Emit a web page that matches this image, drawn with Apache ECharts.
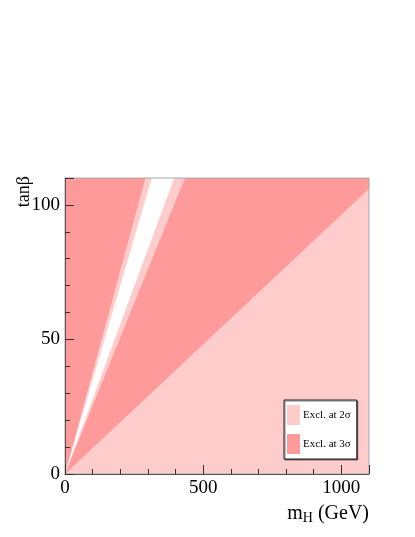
<!DOCTYPE html>
<html>
<head>
<meta charset="utf-8">
<script src="https://cdn.jsdelivr.net/npm/echarts@6/dist/echarts.min.js"></script>
<style>
html, body { margin: 0; padding: 0; background: #fff; }
#chart { width: 415px; height: 537px; }
</style>
</head>
<body>
<div id="chart"></div>
<script>
// axis ranges (mH in GeV, tanBeta)
const xTicks = [0, 500, 1000];
const yTicks = [0, 50, 100];
const mhMax = 1100;
const tbMax = 110;

// lower boundary of 3 sigma region: straight edge from origin
const diagMh = [0, 1100];
const diagTb = [0, 106];

// narrow wedge: outer edge (2 sigma) and inner allowed region, points along tanBeta
const wedgeTb = [0, 110];
const wedge2Left = [0, 291];
const wedge2Right = [0, 434];
const allowedLeft = [0, 314];
const allowedRight = [0, 395];

const col3 = '#ff9a9a';
const col2 = '#ffcccc';
const serif = 'Liberation Serif, Times New Roman, serif';

function polygon(leftMh, rightMh, tb) {
    let pts = [];
    for (let i = 0; i < tb.length; i++) pts.push([leftMh[i], tb[i]]);
    for (let i = tb.length - 1; i >= 0; i--) pts.push([rightMh[i], tb[i]]);
    return pts;
}

function wedgeSeries(name, pts, color) {
    return {
        name: name,
        type: 'custom',
        silent: true,
        data: [0],
        renderItem: function (params, api) {
            return {
                type: 'polygon',
                shape: { points: pts.map(p => api.coord(p)) },
                style: { fill: color, stroke: null }
            };
        },
        z: 3
    };
}

const chart = echarts.init(document.getElementById('chart'));
const option = {
    animation: false,
    backgroundColor: '#fff',
    grid: {
        left: 65, right: 46, top: 178, bottom: 63,
        show: true, borderColor: '#a8a8a8', borderWidth: 1,
        z: 8
    },
    legend: {
        left: 284, top: 400,
        orient: 'vertical',
        width: 70,
        padding: [5, 6, 5, 3],
        itemWidth: 13, itemHeight: 20, itemGap: 9,
        backgroundColor: '#fff',
        borderColor: '#222', borderWidth: 1,
        shadowColor: 'rgba(0,0,0,0.5)', shadowOffsetX: 1, shadowOffsetY: 1,
        selectedMode: false,
        textStyle: { fontFamily: serif, fontSize: 11, color: '#000', padding: [0, 0, 0, -2] },
        data: [
            { name: 'Excl. at 2σ', icon: 'rect', itemStyle: { color: col2 } },
            { name: 'Excl. at 3σ', icon: 'rect', itemStyle: { color: col3 } }
        ]
    },
    xAxis: {
        type: 'value',
        min: 0, max: mhMax, interval: 500,
        z: 10,
        name: '{m|m}{s|H}{m| (GeV)}',
        nameLocation: 'end',
        nameGap: 0,
        nameMoveOverlap: false,
        nameTextStyle: {
            align: 'right', verticalAlign: 'top', padding: [29, 0, 0, 0],
            rich: {
                m: { fontFamily: serif, fontSize: 20, color: '#000' },
                s: { fontFamily: serif, fontSize: 14, color: '#000', padding: [8, 0, 0, 0] }
            }
        },
        axisLine: { onZero: false, lineStyle: { color: '#555', width: 1 } },
        axisTick: { inside: true, length: 9, lineStyle: { color: '#333' } },
        minorTick: { show: true, splitNumber: 5, length: 5, lineStyle: { color: '#333' } },
        splitLine: { show: false },
        axisLabel: {
            fontFamily: serif, fontSize: 19, color: '#000', margin: 5,
            showMaxLabel: false,
            formatter: v => xTicks.includes(v) ? String(v) : ''
        }
    },
    yAxis: {
        type: 'value',
        min: 0, max: tbMax, interval: 50,
        z: 10,
        name: 'tanβ',
        nameLocation: 'end',
        nameRotate: 90,
        nameGap: 2,
        nameMoveOverlap: false,
        nameTextStyle: {
            fontFamily: serif, fontSize: 18, color: '#000',
            align: 'right', verticalAlign: 'bottom', padding: [0, 0, 32, 0]
        },
        axisLine: { onZero: false, lineStyle: { color: '#555', width: 1 } },
        axisTick: { inside: true, length: 9, lineStyle: { color: '#333' } },
        minorTick: { show: true, splitNumber: 5, length: 5, lineStyle: { color: '#333' } },
        splitLine: { show: false },
        axisLabel: {
            fontFamily: serif, fontSize: 19, color: '#000', margin: 5,
            showMaxLabel: false,
            formatter: v => yTicks.includes(v) ? String(v) : ''
        }
    },
    series: [
        {
            name: 'Excl. at 3σ',
            type: 'line',
            data: [[0, tbMax], [mhMax, tbMax]],
            symbol: 'none',
            lineStyle: { width: 0 },
            areaStyle: { color: col3, opacity: 1 },
            silent: true,
            z: 1
        },
        {
            name: 'Excl. at 2σ',
            type: 'line',
            data: diagMh.map((m, i) => [m, diagTb[i]]),
            symbol: 'none',
            lineStyle: { width: 0 },
            areaStyle: { color: col2, opacity: 1 },
            silent: true,
            z: 2
        },
        wedgeSeries('Excl. at 2σ', polygon(wedge2Left, wedge2Right, wedgeTb), col2),
        wedgeSeries('allowed', polygon(allowedLeft, allowedRight, wedgeTb), '#fff')
    ]
};
chart.setOption(option);
</script>
</body>
</html>
